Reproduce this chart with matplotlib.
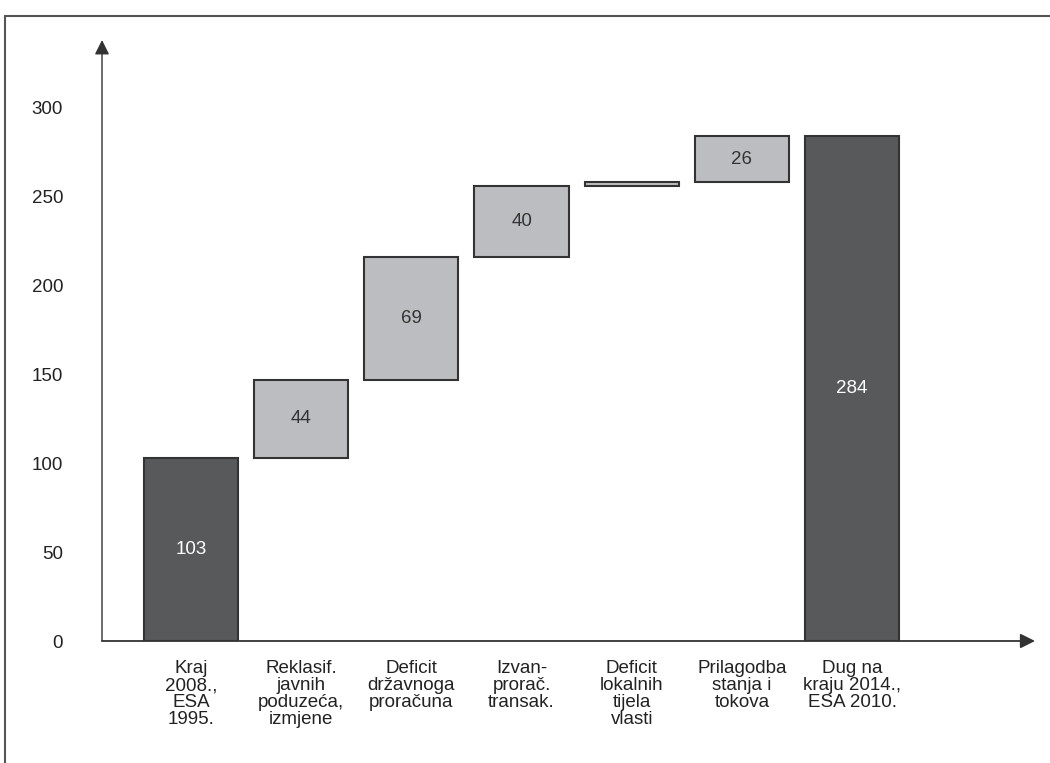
import matplotlib.pyplot as plt
from matplotlib.patches import Rectangle

plt.rcParams['font.family'] = ['Liberation Sans', 'DejaVu Sans']

kategorije = ['Kraj\n2008.,\nESA\n1995.', 'Reklasif.\njavnih\npoduzeća,\nizmjene',
              'Deficit\ndržavnoga\nproračuna', 'Izvan-\nprorač.\ntransak.',
              'Deficit\nlokalnih\ntijela\nvlasti', 'Prilagodba\nstanja i\ntokova',
              'Dug na\nkraju 2014.,\nESA 2010.']
promjene = [103, 44, 69, 40, 2, 26, 284]
ukupno = [True, False, False, False, False, False, True]
oznake = ['103', '44', '69', '40', '', '26', '284']
y_ticks = [0, 50, 100, 150, 200, 250, 300]

tamna = '#58595b'
svijetla = '#bcbdc0'

fig = plt.figure(figsize=(10.5, 7.63), dpi=100)
ax = fig.add_axes([102 / 1050, 122 / 763, 933 / 1050, 601 / 763])

# waterfall: izracun baza
baze = []
tekuci = 0
for v, t in zip(promjene, ukupno):
    if t:
        baze.append(0)
        tekuci = v
    else:
        baze.append(tekuci)
        tekuci += v

x = list(range(len(promjene)))
for i in x:
    boja = tamna if ukupno[i] else svijetla
    ax.bar(i, promjene[i], bottom=baze[i], width=0.855, color=boja,
           edgecolor='#333333', linewidth=1.5, zorder=2)
    if oznake[i]:
        ax.text(i, baze[i] + promjene[i] / 2, oznake[i], ha='center', va='center',
                fontsize=13.5, color='white' if ukupno[i] else '#333333', zorder=3)

ax.set_xlim(-0.808, 7.66)
ax.set_ylim(0, 338)
ax.set_yticks(y_ticks)
ax.set_yticklabels([str(t) for t in y_ticks], fontsize=13.5, color='#222222')
ax.tick_params(axis='y', length=0, pad=28)
ax.set_xticks(x)
ax.set_xticklabels(kategorije, fontsize=13.5, color='#222222', linespacing=1.0)
ax.tick_params(axis='x', length=0, pad=14)
for s in ax.spines.values():
    s.set_visible(False)

# osi sa strelicama
ax.annotate('', xy=(1, 0), xytext=(0, 0), xycoords='axes fraction',
            arrowprops=dict(arrowstyle='-|>', color='#333333', lw=1.3,
                            mutation_scale=22, shrinkA=0, shrinkB=0))
ax.annotate('', xy=(0, 1), xytext=(0, 0), xycoords='axes fraction',
            arrowprops=dict(arrowstyle='-|>', color='#333333', lw=1.0,
                            mutation_scale=22, shrinkA=0, shrinkB=0))

# okvir oko slike
fig.patches.append(Rectangle((5 / 1050, -0.05), 1.1, (763 - 16) / 763 + 0.05,
                             transform=fig.transFigure, fill=False,
                             edgecolor='#555555', linewidth=1.5))

fig.savefig('out.png', dpi=100)
